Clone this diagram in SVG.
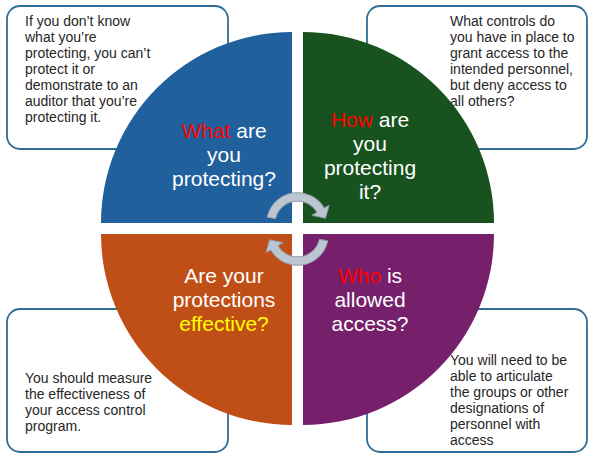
<svg xmlns="http://www.w3.org/2000/svg" width="593" height="460" viewBox="0 0 593 460">
<style>
.box{fill:#fff;stroke:#2F6E96;stroke-width:1.8}
.bt{font-family:"Liberation Sans",Arial,sans-serif;font-size:14px;fill:#262626}
.qt{font-family:"Liberation Sans",Arial,sans-serif;font-size:21px;fill:#fff;text-anchor:middle}
.red{fill:#FF0000}
.yel{fill:#FFFF00}
.arr{fill:#BCC6D0;stroke:#8D9AA7;stroke-width:1}
</style>
<rect width="593" height="460" fill="#fff"/>
<g id="box-tl"><rect class="box" x="7" y="6" width="221" height="143" rx="13"/>
<text class="bt"><tspan x="25" y="26">If you don’t know</tspan><tspan x="25" y="42">what you’re</tspan><tspan x="25" y="58">protecting, you can’t</tspan><tspan x="25" y="74">protect it or</tspan><tspan x="25" y="90">demonstrate to an</tspan><tspan x="25" y="106">auditor that you’re</tspan><tspan x="25" y="122">protecting it.</tspan></text></g>
<g id="box-tr"><rect class="box" x="367" y="6" width="220" height="143" rx="13"/>
<text class="bt"><tspan x="450" y="26">What controls do</tspan><tspan x="450" y="42">you have in place to</tspan><tspan x="450" y="58">grant access to the</tspan><tspan x="450" y="74">intended personnel,</tspan><tspan x="450" y="90">but deny access to</tspan><tspan x="450" y="106">all others?</tspan></text></g>
<g id="box-bl"><rect class="box" x="7" y="309" width="221" height="143" rx="13"/>
<text class="bt"><tspan x="25" y="383">You should measure</tspan><tspan x="25" y="399">the effectiveness of</tspan><tspan x="25" y="415">your access control</tspan><tspan x="25" y="431">program.</tspan></text></g>
<g id="box-br"><rect class="box" x="367" y="309" width="220" height="143" rx="13"/>
<text class="bt"><tspan x="450" y="365">You will need to be</tspan><tspan x="450" y="381">able to articulate</tspan><tspan x="450" y="397">the groups or other</tspan><tspan x="450" y="413">designations of</tspan><tspan x="450" y="429">personnel with</tspan><tspan x="450" y="445">access</tspan></text></g>
<g id="q-what"><path d="M292 223 L101 223 A191 191 0 0 1 292 32 Z" fill="#20609C"/>
<text class="qt"><tspan x="224" y="138"><tspan class="red">What</tspan> are</tspan><tspan x="224" y="162">you</tspan><tspan x="224" y="186">protecting?</tspan></text></g>
<g id="q-how"><path d="M303 223 L303 32 A191 191 0 0 1 494 223 Z" fill="#18521F"/>
<text class="qt"><tspan x="370" y="127"><tspan class="red">How</tspan> are</tspan><tspan x="370" y="151">you</tspan><tspan x="370" y="175">protecting</tspan><tspan x="370" y="199">it?</tspan></text></g>
<g id="q-eff"><path d="M292 234 L292 425 A191 191 0 0 1 101 234 Z" fill="#C04F17"/>
<text class="qt"><tspan x="224" y="283">Are your</tspan><tspan x="224" y="307">protections</tspan><tspan x="224" y="331" class="yel">effective?</tspan></text></g>
<g id="q-who"><path d="M303 234 L494 234 A191 191 0 0 1 303 425 Z" fill="#761F6A"/>
<text class="qt"><tspan x="370" y="283"><tspan class="red">Who</tspan> is</tspan><tspan x="370" y="307">allowed</tspan><tspan x="370" y="331">access?</tspan></text></g>
<g id="connectors">
<path class="arr" d="M267.2 217.1 A31 31 0 0 1 324.3 208 L329.1 205.3 L325.5 218.3 L311.8 215.3 L317 212.3 A22.5 22.5 0 0 0 275.5 218.8 Z"/>
<path class="arr" transform="rotate(180 297.5 229)" d="M267.2 217.1 A31 31 0 0 1 324.3 208 L329.1 205.3 L325.5 218.3 L311.8 215.3 L317 212.3 A22.5 22.5 0 0 0 275.5 218.8 Z"/>
</g>
</svg>
